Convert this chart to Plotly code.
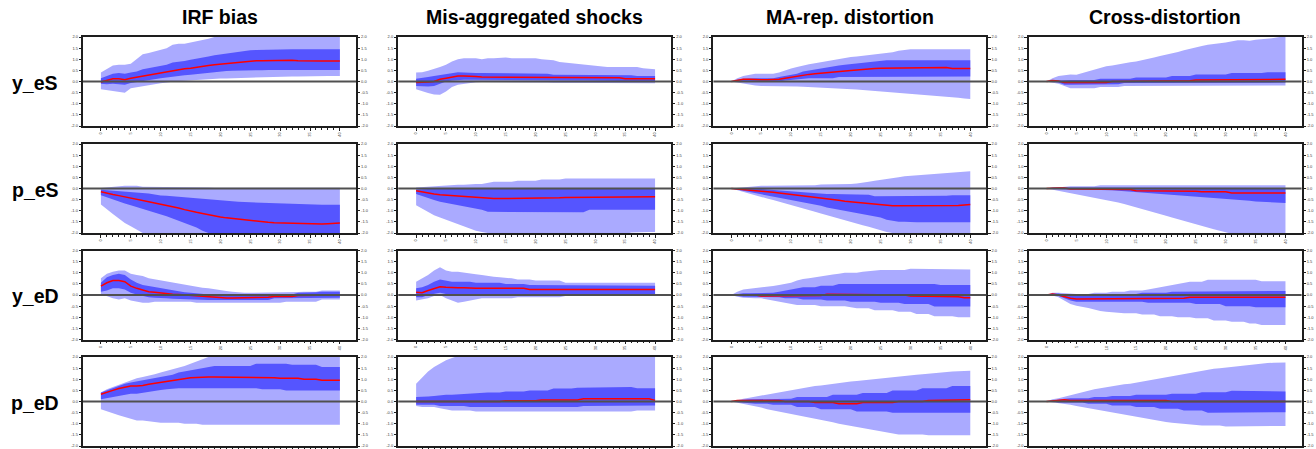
import plotly.graph_objects as go

# Horizons and labels
horizons = list(range(41))
column_titles = ["IRF bias", "Mis-aggregated shocks", "MA-rep. distortion", "Cross-distortion"]
row_labels = ["y_eS", "p_eS", "y_eD", "p_eD"]
y_ticks = [-2.0, -1.5, -1.0, -0.5, 0.0, 0.5, 1.0, 1.5, 2.0]
x_ticks = [0, 5, 10, 15, 20, 25, 30, 35, 40]

# ---------------- y_eS ----------------
irf_y_eS_outer_lo = [-0.35,-0.38,-0.42,-0.45,-0.50, -0.30,-0.25,-0.20,-0.18,-0.12, -0.08,-0.05,0.00,0.02,0.03, 0.05,0.07,0.10,0.10,0.12, 0.13,0.14,0.15,0.15,0.16, 0.18,0.18,0.19,0.19,0.20, 0.20,0.22,0.23,0.23,0.24, 0.24,0.25,0.25,0.25,0.25, 0.25]
irf_y_eS_inner_lo = [-0.10,-0.12,-0.10,-0.12,-0.15, -0.07,-0.02,0.00,0.05,0.10, 0.15,0.18,0.22,0.25,0.28, 0.30,0.33,0.37,0.40,0.42, 0.45,0.47,0.48,0.48,0.50, 0.50,0.51,0.51,0.52,0.52, 0.53,0.55,0.52,0.52,0.52, 0.52,0.52,0.52,0.52,0.52, 0.52]
irf_y_eS_med = [-0.02,0.05,0.12,0.12,0.08, 0.15,0.20,0.25,0.28,0.32, 0.38,0.43,0.50,0.55,0.57, 0.60,0.65,0.68,0.72,0.75, 0.78,0.80,0.83,0.87,0.90, 0.92,0.93,0.93,0.94,0.94, 0.95,0.97,0.95,0.93,0.92, 0.92,0.92,0.92,0.92,0.92, 0.92]
irf_y_eS_inner_hi = [0.15,0.25,0.35,0.38,0.35, 0.40,0.45,0.55,0.60,0.65, 0.70,0.75,0.85,0.88,0.92, 0.98,1.02,1.08,1.12,1.18, 1.22,1.25,1.30,1.33,1.36, 1.40,1.42,1.43,1.44,1.45, 1.45,1.45,1.45,1.45,1.45, 1.45,1.45,1.45,1.45,1.45, 1.45]
irf_y_eS_outer_hi = [0.40,0.55,0.72,0.75,0.75, 0.80,1.00,1.22,1.28,1.35, 1.40,1.50,1.65,1.70,1.70, 1.75,1.80,1.88,1.92,2.00, 2.05,2.10,2.15,2.20,2.25, 2.28,2.30,2.32,2.34,2.35, 2.36,2.38,2.40,2.40,2.42, 2.42,2.44,2.45,2.46,2.47, 2.48]

mis_y_eS_outer_lo = [-0.35,-0.45,-0.52,-0.58,-0.60, -0.45,-0.25,-0.15,-0.10,-0.05, -0.03,-0.02,-0.02,-0.03,-0.03, -0.04,-0.04,-0.05,-0.05,-0.05, -0.05,-0.05,-0.05,-0.06,-0.06, -0.06,-0.06,-0.06,-0.07,-0.07, -0.07,-0.07,-0.07,-0.08,-0.08, -0.08,-0.08,-0.08,-0.08,-0.08, -0.08]
mis_y_eS_inner_lo = [-0.20,-0.22,-0.22,-0.20,-0.10, 0.00,0.05,0.08,0.08,0.08, 0.08,0.08,0.08,0.08,0.08, 0.08,0.08,0.08,0.08,0.08, 0.07,0.07,0.07,0.05,0.05, 0.05,0.05,0.05,0.04,0.04, 0.04,0.03,0.03,0.03,0.03, 0.02,0.02,0.01,0.00,0.00, 0.00]
mis_y_eS_med = [-0.05,-0.05,-0.02,0.00,0.10, 0.15,0.20,0.25,0.25,0.25, 0.22,0.20,0.20,0.20,0.20, 0.20,0.20,0.20,0.20,0.20, 0.20,0.20,0.20,0.20,0.20, 0.17,0.17,0.17,0.17,0.17, 0.17,0.17,0.17,0.17,0.17, 0.12,0.12,0.12,0.12,0.12, 0.12]
mis_y_eS_inner_hi = [0.12,0.15,0.20,0.25,0.30, 0.35,0.40,0.42,0.40,0.38, 0.38,0.38,0.38,0.38,0.38, 0.35,0.35,0.35,0.35,0.35, 0.35,0.35,0.35,0.30,0.30, 0.30,0.30,0.30,0.30,0.30, 0.30,0.28,0.28,0.28,0.28, 0.28,0.28,0.25,0.25,0.25, 0.25]
mis_y_eS_outer_hi = [0.40,0.42,0.48,0.55,0.65, 0.75,0.90,1.00,1.05,1.05, 1.05,1.00,1.05,1.05,1.08, 1.08,1.05,1.05,1.05,1.05, 1.05,1.00,0.98,0.95,0.88, 0.85,0.83,0.80,0.78,0.75, 0.72,0.70,0.65,0.65,0.65, 0.65,0.65,0.65,0.60,0.58, 0.55]

ma_y_eS_outer_lo = [0.00,-0.05,-0.10,-0.15,-0.18, -0.20,-0.20,-0.20,-0.21,-0.22, -0.22,-0.23,-0.24,-0.25,-0.26, -0.27,-0.28,-0.29,-0.30,-0.32, -0.34,-0.36,-0.38,-0.40,-0.42, -0.44,-0.46,-0.48,-0.50,-0.52, -0.54,-0.56,-0.58,-0.60,-0.62, -0.64,-0.67,-0.70,-0.73,-0.76, -0.79]
ma_y_eS_inner_lo = [0.00,0.00,0.02,0.00,0.00, 0.00,0.00,0.00,0.00,0.05, 0.08,0.10,0.12,0.15,0.15, 0.15,0.15,0.15,0.20,0.20, 0.20,0.20,0.20,0.20,0.20, 0.22,0.22,0.22,0.22,0.22, 0.22,0.22,0.22,0.22,0.22, 0.22,0.22,0.22,0.22,0.22, 0.22]
ma_y_eS_med = [0.00,0.05,0.10,0.10,0.08, 0.08,0.08,0.08,0.10,0.15, 0.20,0.25,0.30,0.32,0.35, 0.38,0.40,0.43,0.45,0.47, 0.50,0.52,0.55,0.57,0.58, 0.60,0.60,0.60,0.60,0.63, 0.63,0.63,0.63,0.63,0.63, 0.63,0.63,0.58,0.58,0.58, 0.58]
ma_y_eS_inner_hi = [0.00,0.08,0.12,0.15,0.15, 0.15,0.15,0.15,0.20,0.25, 0.30,0.35,0.45,0.50,0.55, 0.60,0.65,0.70,0.72,0.75, 0.78,0.80,0.85,0.88,0.90, 0.95,0.95,0.95,0.95,0.95, 0.95,0.95,0.95,0.95,0.95, 0.95,0.95,0.95,0.95,0.95, 0.95]
ma_y_eS_outer_hi = [0.00,0.15,0.25,0.30,0.35, 0.35,0.35,0.35,0.40,0.50, 0.58,0.65,0.72,0.78,0.82, 0.87,0.92,0.97,1.00,1.05, 1.10,1.12,1.15,1.18,1.20, 1.25,1.28,1.32,1.38,1.42, 1.45,1.45,1.45,1.45,1.45, 1.45,1.45,1.45,1.45,1.45, 1.45]

cross_y_eS_outer_lo = [0.00,-0.05,-0.10,-0.20,-0.30, -0.30,-0.30,-0.30,-0.30,-0.25, -0.25,-0.25,-0.25,-0.20,-0.20, -0.20,-0.20,-0.20,-0.20,-0.18, -0.18,-0.18,-0.18,-0.18,-0.18, -0.18,-0.18,-0.18,-0.18,-0.18, -0.18,-0.18,-0.18,-0.18,-0.18, -0.18,-0.18,-0.18,-0.18,-0.18, -0.18]
cross_y_eS_inner_lo = [0.00,0.00,-0.05,-0.15,-0.15, -0.15,-0.15,-0.15,-0.15,-0.12, -0.12,-0.12,-0.12,-0.07,-0.07, -0.07,-0.07,-0.07,-0.07,-0.05, -0.05,-0.05,-0.05,-0.05,-0.05, -0.05,-0.05,-0.05,-0.05,-0.05, -0.05,-0.05,-0.05,-0.05,-0.05, -0.05,-0.05,-0.05,-0.05,-0.05, -0.05]
cross_y_eS_med = [0.00,0.05,0.02,-0.05,-0.05, -0.05,-0.05,-0.05,-0.05,-0.05, -0.05,0.00,0.00,0.00,0.00, 0.00,0.00,0.00,0.03,0.03, 0.03,0.03,0.03,0.03,0.03, 0.07,0.07,0.07,0.07,0.07, 0.07,0.07,0.07,0.10,0.10, 0.10,0.10,0.10,0.10,0.10, 0.10]
cross_y_eS_inner_hi = [0.00,0.05,0.05,0.07,0.07, 0.07,0.07,0.07,0.07,0.12, 0.12,0.12,0.12,0.12,0.12, 0.18,0.18,0.18,0.18,0.18, 0.18,0.25,0.25,0.25,0.25, 0.32,0.32,0.32,0.32,0.32, 0.32,0.38,0.38,0.38,0.38, 0.38,0.38,0.42,0.42,0.42, 0.42]
cross_y_eS_outer_hi = [0.00,0.15,0.25,0.30,0.32, 0.30,0.38,0.45,0.55,0.60, 0.68,0.72,0.78,0.82,0.87, 0.90,0.95,1.02,1.08,1.15, 1.20,1.27,1.33,1.40,1.47, 1.55,1.60,1.65,1.70,1.72, 1.75,1.80,1.85,1.85,1.83, 1.88,1.90,1.93,1.95,2.00, 2.05]

# ---------------- p_eS ----------------
irf_p_eS_outer_lo = [-0.72,-0.95,-1.15,-1.35,-1.55, -1.70,-1.85,-2.00,-2.10,-2.20, -2.30,-2.40,-2.50,-2.60,-2.70, -2.80,-2.85,-2.90,-2.95,-3.00, -3.00,-3.00,-3.00,-3.00,-3.00, -3.00,-3.00,-3.00,-3.00,-3.00, -3.00,-3.00,-3.00,-3.00,-3.00, -3.00,-3.00,-3.00,-3.00,-3.00, -3.00]
irf_p_eS_inner_lo = [-0.30,-0.40,-0.50,-0.58,-0.67, -0.75,-0.83,-0.92,-1.00,-1.08, -1.17,-1.25,-1.35,-1.45,-1.55, -1.65,-1.75,-1.90,-2.00,-2.05, -2.10,-2.15,-2.20,-2.25,-2.30, -2.35,-2.40,-2.45,-2.50,-2.50, -2.50,-2.50,-2.50,-2.50,-2.50, -2.50,-2.50,-2.50,-2.50,-2.50, -2.50]
irf_p_eS_med = [-0.15,-0.22,-0.27,-0.32,-0.38, -0.45,-0.50,-0.55,-0.60,-0.65, -0.70,-0.77,-0.83,-0.88,-0.95, -1.02,-1.07,-1.12,-1.18,-1.22, -1.28,-1.32,-1.35,-1.38,-1.42, -1.46,-1.48,-1.50,-1.52,-1.54, -1.55,-1.57,-1.58,-1.59,-1.60, -1.60,-1.60,-1.60,-1.58,-1.56, -1.55]
irf_p_eS_inner_hi = [-0.06,-0.08,-0.10,-0.12,-0.13, -0.15,-0.18,-0.20,-0.23,-0.27, -0.32,-0.33,-0.35,-0.37,-0.38, -0.40,-0.42,-0.45,-0.47,-0.50, -0.52,-0.55,-0.57,-0.60,-0.61, -0.62,-0.63,-0.65,-0.67,-0.67, -0.67,-0.70,-0.70,-0.72,-0.72, -0.72,-0.73,-0.73,-0.73,-0.73, -0.73]
irf_p_eS_outer_hi = [0.02,0.05,0.08,0.10,0.12, 0.12,0.12,0.08,0.08,0.08, 0.08,0.08,0.08,0.08,0.08, 0.08,0.08,0.08,0.05,0.03, 0.03,0.03,0.03,0.03,0.03, 0.03,0.03,0.03,0.03,0.03, 0.03,0.03,0.03,0.03,0.03, 0.03,0.03,0.03,0.03,0.03, 0.03]

mis_p_eS_outer_lo = [-0.75,-0.90,-1.05,-1.20,-1.30, -1.40,-1.50,-1.60,-1.70,-1.80, -1.90,-1.95,-2.00,-2.05,-2.05, -2.05,-2.05,-2.05,-2.05,-2.05, -2.05,-2.05,-2.05,-2.05,-2.05, -2.05,-2.05,-2.05,-2.05,-2.05, -2.05,-2.05,-2.05,-2.05,-2.05, -2.05,-1.98,-1.96,-1.95,-1.95, -1.95]
mis_p_eS_inner_lo = [-0.25,-0.35,-0.45,-0.52,-0.60, -0.65,-0.70,-0.75,-0.80,-0.85, -0.90,-0.95,-1.05,-1.05,-1.05, -1.07,-1.07,-1.07,-1.07,-1.07, -1.07,-1.07,-1.07,-1.07,-1.07, -1.07,-1.07,-1.07,-1.07,-0.95, -0.95,-0.95,-0.95,-0.95,-0.95, -0.95,-0.95,-0.95,-0.95,-0.95, -0.95]
mis_p_eS_med = [-0.10,-0.15,-0.22,-0.25,-0.28, -0.30,-0.32,-0.33,-0.35,-0.37, -0.40,-0.42,-0.45,-0.45,-0.45, -0.45,-0.45,-0.45,-0.45,-0.45, -0.45,-0.45,-0.45,-0.45,-0.42, -0.40,-0.40,-0.40,-0.40,-0.40, -0.40,-0.37,-0.37,-0.37,-0.37, -0.37,-0.37,-0.37,-0.37,-0.37, -0.37]
mis_p_eS_inner_hi = [-0.05,-0.03,-0.02,0.00,0.00, 0.01,0.01,0.01,0.01,0.01, 0.01,0.01,0.01,0.01,0.01, 0.01,0.01,0.01,0.01,0.01, 0.01,0.01,0.01,0.01,0.01, 0.01,0.01,0.01,0.01,0.01, 0.01,0.01,0.01,0.01,0.01, 0.01,0.01,0.01,0.01,0.01, 0.01]
mis_p_eS_outer_hi = [0.05,0.07,0.08,0.10,0.12, 0.15,0.17,0.17,0.17,0.20, 0.20,0.20,0.25,0.30,0.30, 0.30,0.30,0.35,0.35,0.35, 0.35,0.40,0.40,0.40,0.40, 0.45,0.45,0.45,0.45,0.45, 0.45,0.45,0.45,0.45,0.45, 0.45,0.45,0.45,0.45,0.45, 0.45]

ma_p_eS_outer_lo = [0.00,-0.08,-0.15,-0.22,-0.30, -0.38,-0.45,-0.52,-0.60,-0.68, -0.75,-0.82,-0.90,-0.98,-1.05, -1.12,-1.20,-1.28,-1.35,-1.42, -1.50,-1.57,-1.65,-1.72,-1.80, -1.88,-1.95,-2.00,-2.05,-2.10, -2.10,-2.10,-2.10,-2.10,-2.10, -2.10,-2.10,-2.10,-2.10,-2.10, -2.10]
ma_p_eS_inner_lo = [0.00,-0.05,-0.10,-0.15,-0.20, -0.25,-0.30,-0.35,-0.40,-0.45, -0.50,-0.55,-0.62,-0.68,-0.72, -0.78,-0.85,-0.90,-0.95,-1.00, -1.05,-1.10,-1.15,-1.20,-1.25, -1.30,-1.40,-1.45,-1.50,-1.50, -1.52,-1.52,-1.52,-1.52,-1.52, -1.52,-1.52,-1.52,-1.52,-1.52, -1.52]
ma_p_eS_med = [0.00,-0.02,-0.04,-0.06,-0.08, -0.10,-0.13,-0.17,-0.20,-0.23, -0.27,-0.30,-0.33,-0.35,-0.40, -0.43,-0.47,-0.50,-0.53,-0.57, -0.60,-0.62,-0.65,-0.68,-0.70, -0.72,-0.75,-0.78,-0.78,-0.78, -0.78,-0.78,-0.78,-0.78,-0.78, -0.78,-0.78,-0.78,-0.76,-0.74, -0.72]
ma_p_eS_inner_hi = [0.00,0.00,0.00,-0.02,-0.02, -0.02,-0.05,-0.07,-0.10,-0.12, -0.15,-0.15,-0.18,-0.20,-0.22, -0.25,-0.25,-0.25,-0.25,-0.25, -0.28,-0.28,-0.28,-0.28,-0.35, -0.35,-0.35,-0.35,-0.35,-0.35, -0.33,-0.33,-0.33,-0.33,-0.33, -0.33,-0.33,-0.30,-0.30,-0.30, -0.30]
ma_p_eS_outer_hi = [0.00,0.03,0.05,0.08,0.10, 0.12,0.12,0.12,0.12,0.12, 0.15,0.15,0.15,0.15,0.15, 0.18,0.18,0.18,0.18,0.18, 0.20,0.22,0.25,0.30,0.35, 0.38,0.42,0.45,0.50,0.55, 0.57,0.60,0.62,0.65,0.67, 0.68,0.70,0.72,0.74,0.75, 0.77]

cross_p_eS_outer_lo = [0.00,-0.05,-0.10,-0.15,-0.20, -0.25,-0.30,-0.35,-0.40,-0.45, -0.50,-0.57,-0.63,-0.70,-0.77, -0.85,-0.92,-1.00,-1.07,-1.15, -1.22,-1.30,-1.38,-1.45,-1.53, -1.60,-1.68,-1.75,-1.83,-1.90, -1.98,-2.05,-2.10,-2.15,-2.20, -2.25,-2.25,-2.25,-2.25,-2.25, -2.25]
cross_p_eS_inner_lo = [0.00,-0.02,-0.03,-0.03,-0.05, -0.05,-0.05,-0.05,-0.05,-0.05, -0.06,-0.08,-0.10,-0.12,-0.14, -0.16,-0.18,-0.20,-0.22,-0.24, -0.25,-0.26,-0.28,-0.30,-0.32, -0.34,-0.36,-0.38,-0.40,-0.42, -0.45,-0.48,-0.50,-0.53,-0.55, -0.58,-0.60,-0.62,-0.64,-0.65, -0.65]
cross_p_eS_med = [0.00,0.02,0.02,0.02,-0.02, -0.02,-0.02,-0.02,-0.02,-0.02, -0.02,-0.05,-0.05,-0.05,-0.05, -0.10,-0.10,-0.10,-0.10,-0.10, -0.10,-0.12,-0.12,-0.12,-0.12, -0.12,-0.15,-0.15,-0.15,-0.15, -0.15,-0.20,-0.20,-0.20,-0.20, -0.20,-0.20,-0.20,-0.20,-0.20, -0.20]
cross_p_eS_inner_hi = [0.00,0.05,0.05,0.05,0.05, 0.05,0.05,0.05,0.05,0.05, 0.05,0.05,0.05,0.05,0.05, 0.05,0.05,0.05,0.05,0.05, 0.05,0.02,0.02,0.02,0.02, 0.02,0.02,0.02,0.02,0.02, 0.02,0.02,0.02,0.02,0.02, 0.02,0.02,0.02,0.02,0.02, 0.02]
cross_p_eS_outer_hi = [0.00,0.03,0.05,0.07,0.10, 0.10,0.10,0.10,0.10,0.15, 0.15,0.15,0.15,0.18,0.18, 0.18,0.18,0.18,0.18,0.18, 0.18,0.18,0.18,0.18,0.18, 0.15,0.15,0.15,0.15,0.15, 0.15,0.15,0.15,0.15,0.15, 0.15,0.15,0.15,0.15,0.15, 0.15]

# ---------------- y_eD ----------------
irf_y_eD_outer_lo = [0.05,-0.05,-0.15,-0.20,-0.15, -0.25,-0.30,-0.35,-0.35,-0.30, -0.30,-0.30,-0.30,-0.30,-0.30, -0.30,-0.35,-0.35,-0.35,-0.35, -0.35,-0.35,-0.35,-0.35,-0.35, -0.35,-0.35,-0.35,-0.35,-0.35, -0.35,-0.30,-0.30,-0.30,-0.30, -0.30,-0.30,-0.20,-0.20,-0.20, -0.20]
irf_y_eD_inner_lo = [0.15,0.20,0.30,0.30,0.25, 0.10,0.02,-0.05,-0.10,-0.12, -0.15,-0.15,-0.17,-0.18,-0.20, -0.22,-0.22,-0.22,-0.22,-0.22, -0.22,-0.22,-0.22,-0.22,-0.22, -0.22,-0.22,-0.22,-0.22,-0.15, -0.15,-0.15,-0.15,-0.15,-0.15, -0.15,-0.15,-0.12,-0.12,-0.12, -0.12]
irf_y_eD_med = [0.40,0.55,0.65,0.65,0.60, 0.40,0.30,0.22,0.15,0.12, 0.08,0.05,0.03,0.02,0.00, -0.02,-0.05,-0.07,-0.10,-0.12, -0.13,-0.13,-0.13,-0.13,-0.13, -0.10,-0.10,-0.10,-0.10,-0.07, -0.07,-0.07,-0.07,-0.02,-0.02, -0.02,-0.02,0.00,0.00,0.00, 0.00]
irf_y_eD_inner_hi = [0.55,0.80,0.90,0.95,0.90, 0.70,0.55,0.45,0.40,0.35, 0.30,0.25,0.20,0.15,0.12, 0.10,0.07,0.05,0.02,0.00, 0.00,0.00,0.00,0.00,0.00, 0.02,0.02,0.02,0.02,0.02, 0.02,0.02,0.02,0.10,0.10, 0.10,0.12,0.15,0.15,0.15, 0.15]
irf_y_eD_outer_hi = [0.75,0.95,1.05,1.10,1.10, 0.95,0.90,0.85,0.75,0.70, 0.65,0.60,0.55,0.50,0.45, 0.42,0.38,0.33,0.30,0.25, 0.20,0.18,0.15,0.12,0.10, 0.10,0.10,0.10,0.10,0.12, 0.12,0.12,0.13,0.13,0.15, 0.15,0.15,0.20,0.20,0.20, 0.20]

mis_y_eD_outer_lo = [-0.25,-0.20,-0.15,-0.05,0.00, -0.15,-0.25,-0.35,-0.30,-0.25, -0.20,-0.15,-0.15,-0.15,-0.15, -0.15,-0.15,-0.10,-0.10,-0.10, -0.10,-0.10,-0.10,-0.10,-0.10, -0.05,-0.05,-0.05,-0.05,-0.05, -0.05,-0.05,-0.05,-0.05,-0.05, -0.05,-0.05,-0.05,-0.05,-0.05, -0.05]
mis_y_eD_inner_lo = [-0.10,-0.10,0.00,0.05,0.10, 0.05,0.00,-0.05,0.00,0.00, 0.00,0.00,0.00,0.05,0.05, 0.05,0.05,0.05,0.05,0.05, 0.05,0.05,0.05,0.05,0.05, 0.05,0.05,0.05,0.05,0.05, 0.05,0.05,0.05,0.05,0.05, 0.05,0.05,0.05,0.05,0.05, 0.05]
mis_y_eD_med = [0.12,0.10,0.20,0.30,0.37, 0.35,0.33,0.33,0.33,0.30, 0.30,0.30,0.30,0.30,0.30, 0.30,0.30,0.30,0.30,0.25, 0.25,0.25,0.25,0.25,0.25, 0.25,0.25,0.25,0.25,0.25, 0.25,0.25,0.25,0.25,0.25, 0.25,0.25,0.25,0.25,0.25, 0.25]
mis_y_eD_inner_hi = [0.30,0.35,0.45,0.60,0.70, 0.65,0.60,0.60,0.60,0.60, 0.55,0.55,0.55,0.55,0.55, 0.50,0.50,0.50,0.50,0.45, 0.45,0.45,0.45,0.45,0.45, 0.42,0.42,0.42,0.42,0.42, 0.42,0.42,0.42,0.42,0.42, 0.42,0.42,0.42,0.42,0.42, 0.42]
mis_y_eD_outer_hi = [0.60,0.75,0.90,1.10,1.25, 1.10,1.05,1.05,1.00,0.95, 0.93,0.90,0.85,0.82,0.80, 0.78,0.75,0.70,0.70,0.70, 0.65,0.65,0.65,0.65,0.65, 0.55,0.55,0.55,0.55,0.55, 0.55,0.55,0.55,0.55,0.55, 0.55,0.55,0.55,0.55,0.55, 0.55]

ma_y_eD_outer_lo = [0.00,-0.08,-0.12,-0.15,-0.15, -0.15,-0.20,-0.25,-0.30,-0.35, -0.38,-0.45,-0.45,-0.45,-0.45, -0.50,-0.50,-0.50,-0.50,-0.50, -0.55,-0.60,-0.60,-0.60,-0.68, -0.68,-0.68,-0.68,-0.75,-0.75, -0.75,-0.85,-0.85,-0.85,-0.95, -0.95,-0.95,-0.95,-1.00,-1.00, -1.00]
ma_y_eD_inner_lo = [0.00,-0.05,-0.08,-0.08,-0.08, -0.10,-0.10,-0.10,-0.10,-0.15, -0.15,-0.15,-0.20,-0.20,-0.20, -0.20,-0.25,-0.25,-0.25,-0.25, -0.30,-0.30,-0.30,-0.30,-0.30, -0.35,-0.35,-0.35,-0.35,-0.40, -0.40,-0.40,-0.40,-0.40,-0.52, -0.52,-0.52,-0.52,-0.52,-0.52, -0.52]
ma_y_eD_med = [0.00,0.00,0.00,0.00,0.00, -0.05,-0.05,-0.05,-0.05,-0.05, -0.05,-0.02,-0.02,-0.02,-0.02, -0.02,0.03,0.03,0.03,0.03, 0.03,0.03,0.03,0.03,0.03, 0.03,0.00,0.00,0.00,0.00, -0.05,-0.05,-0.05,-0.05,-0.05, -0.05,-0.08,-0.08,-0.08,-0.12, -0.12]
ma_y_eD_inner_hi = [0.00,0.05,0.08,0.08,0.08, 0.10,0.10,0.10,0.15,0.20, 0.22,0.28,0.35,0.35,0.35, 0.42,0.42,0.42,0.50,0.50, 0.50,0.50,0.50,0.50,0.50, 0.52,0.52,0.52,0.52,0.52, 0.50,0.50,0.50,0.50,0.50, 0.45,0.45,0.45,0.45,0.45, 0.45]
ma_y_eD_outer_hi = [0.00,0.15,0.25,0.28,0.30, 0.32,0.35,0.40,0.45,0.50, 0.55,0.65,0.72,0.75,0.80, 0.85,0.88,0.92,0.95,1.00, 1.00,1.00,1.05,1.08,1.12, 1.12,1.12,1.12,1.12,1.12, 1.18,1.18,1.18,1.18,1.18, 1.18,1.18,1.15,1.15,1.15, 1.15]

cross_y_eD_outer_lo = [0.00,-0.02,-0.10,-0.25,-0.40, -0.48,-0.52,-0.58,-0.65,-0.72, -0.75,-0.78,-0.78,-0.82,-0.82, -0.82,-0.88,-0.88,-0.88,-0.95, -0.95,-0.95,-1.00,-1.00,-1.00, -1.05,-1.05,-1.05,-1.15,-1.15, -1.15,-1.20,-1.20,-1.20,-1.28, -1.28,-1.35,-1.35,-1.35,-1.35, -1.35]
cross_y_eD_inner_lo = [0.00,0.00,-0.05,-0.15,-0.25, -0.30,-0.30,-0.30,-0.30,-0.30, -0.30,-0.30,-0.30,-0.30,-0.30, -0.30,-0.30,-0.35,-0.35,-0.35, -0.35,-0.35,-0.35,-0.35,-0.35, -0.40,-0.40,-0.40,-0.40,-0.40, -0.50,-0.50,-0.50,-0.50,-0.50, -0.55,-0.55,-0.55,-0.55,-0.55, -0.55]
cross_y_eD_med = [0.00,0.05,0.00,-0.08,-0.15, -0.18,-0.18,-0.18,-0.18,-0.18, -0.18,-0.15,-0.15,-0.15,-0.15, -0.15,-0.18,-0.18,-0.15,-0.15, -0.15,-0.15,-0.15,-0.15,-0.10, -0.10,-0.10,-0.10,-0.10,-0.10, -0.10,-0.10,-0.10,-0.10,-0.10, -0.10,-0.10,-0.10,-0.10,-0.10, -0.10]
cross_y_eD_inner_hi = [0.00,0.07,0.07,0.00,-0.05, -0.03,-0.03,-0.03,-0.03,0.00, 0.00,0.00,0.05,0.05,0.05, 0.05,0.10,0.10,0.10,0.10, 0.10,0.15,0.15,0.15,0.15, 0.18,0.18,0.18,0.18,0.18, 0.18,0.18,0.18,0.18,0.18, 0.18,0.18,0.18,0.18,0.18, 0.18]
cross_y_eD_outer_hi = [0.00,0.10,0.10,0.08,0.05, 0.05,0.05,0.05,0.10,0.10, 0.10,0.15,0.15,0.15,0.20, 0.20,0.20,0.25,0.30,0.35, 0.40,0.45,0.50,0.55,0.60, 0.60,0.60,0.68,0.68,0.68, 0.68,0.68,0.68,0.68,0.68, 0.68,0.62,0.62,0.62,0.62, 0.62]

# ---------------- p_eD ----------------
irf_p_eD_outer_lo = [-0.35,-0.45,-0.55,-0.62,-0.70, -0.78,-0.85,-0.85,-0.90,-0.92, -0.95,-0.95,-0.95,-0.95,-1.00, -1.00,-1.00,-1.05,-1.05,-1.05, -1.05,-1.05,-1.05,-1.05,-1.05, -1.05,-1.05,-1.05,-1.05,-1.05, -1.05,-1.05,-1.05,-1.05,-1.05, -1.05,-1.05,-1.05,-1.05,-1.05, -1.05]
irf_p_eD_inner_lo = [0.10,0.15,0.20,0.25,0.30, 0.35,0.35,0.40,0.45,0.50, 0.52,0.55,0.58,0.60,0.60, 0.60,0.60,0.60,0.60,0.60, 0.60,0.60,0.60,0.60,0.60, 0.60,0.60,0.55,0.55,0.55, 0.55,0.50,0.50,0.50,0.50, 0.50,0.50,0.50,0.50,0.50, 0.50]
irf_p_eD_med = [0.33,0.40,0.50,0.58,0.65, 0.70,0.70,0.72,0.78,0.82, 0.88,0.92,0.95,1.00,1.03, 1.07,1.08,1.10,1.10,1.10, 1.10,1.10,1.10,1.10,1.10, 1.10,1.08,1.07,1.07,1.07, 1.05,1.05,1.05,1.05,1.00, 1.00,1.00,0.95,0.95,0.95, 0.95]
irf_p_eD_inner_hi = [0.40,0.50,0.60,0.70,0.80, 0.85,0.90,0.95,1.00,1.05, 1.10,1.15,1.20,1.30,1.35, 1.40,1.45,1.50,1.55,1.60, 1.60,1.60,1.60,1.60,1.60, 1.60,1.70,1.70,1.70,1.70, 1.70,1.70,1.65,1.65,1.65, 1.65,1.65,1.55,1.55,1.55, 1.55]
irf_p_eD_outer_hi = [0.40,0.55,0.65,0.75,0.85, 0.95,1.05,1.10,1.15,1.22, 1.30,1.37,1.45,1.52,1.60, 1.70,1.80,1.90,2.00,2.05, 2.10,2.15,2.20,2.20,2.20, 2.20,2.20,2.20,2.20,2.20, 2.20,2.20,2.20,2.20,2.20, 2.20,2.20,2.20,2.20,2.20, 2.20]

mis_p_eD_outer_lo = [-0.20,-0.25,-0.25,-0.25,-0.30, -0.35,-0.40,-0.40,-0.40,-0.40, -0.45,-0.45,-0.45,-0.45,-0.45, -0.45,-0.45,-0.45,-0.45,-0.45, -0.45,-0.45,-0.45,-0.45,-0.45, -0.45,-0.45,-0.45,-0.45,-0.45, -0.45,-0.45,-0.45,-0.45,-0.45, -0.45,-0.45,-0.40,-0.40,-0.40, -0.40]
mis_p_eD_inner_lo = [-0.15,-0.15,-0.15,-0.15,-0.20, -0.20,-0.20,-0.20,-0.20,-0.25, -0.25,-0.25,-0.25,-0.25,-0.25, -0.25,-0.25,-0.25,-0.25,-0.25, -0.25,-0.25,-0.25,-0.25,-0.25, -0.25,-0.25,-0.25,-0.20,-0.20, -0.20,-0.20,-0.20,-0.20,-0.20, -0.20,-0.20,-0.18,-0.18,-0.18, -0.18]
mis_p_eD_med = [0.00,0.00,0.00,0.00,-0.03, 0.00,0.00,0.00,0.00,0.00, 0.00,0.00,0.00,0.00,0.00, 0.03,0.03,0.03,0.03,0.03, 0.03,0.07,0.07,0.07,0.07, 0.07,0.07,0.07,0.12,0.12, 0.12,0.12,0.12,0.12,0.12, 0.12,0.12,0.12,0.12,0.12, 0.05]
mis_p_eD_inner_hi = [0.20,0.20,0.22,0.25,0.28, 0.30,0.30,0.32,0.33,0.35, 0.35,0.40,0.40,0.40,0.40, 0.45,0.45,0.45,0.45,0.50, 0.50,0.50,0.50,0.58,0.58, 0.58,0.58,0.62,0.62,0.62, 0.62,0.62,0.62,0.65,0.65, 0.65,0.65,0.60,0.60,0.60, 0.60]
mis_p_eD_outer_hi = [0.80,1.10,1.35,1.55,1.70, 1.85,1.95,2.05,2.10,2.15, 2.20,2.20,2.20,2.20,2.20, 2.20,2.20,2.20,2.20,2.20, 2.20,2.20,2.20,2.20,2.20, 2.20,2.20,2.20,2.20,2.20, 2.20,2.20,2.20,2.20,2.20, 2.20,2.20,2.20,2.20,2.20, 2.20]

ma_p_eD_outer_lo = [0.00,-0.05,-0.10,-0.15,-0.20, -0.27,-0.35,-0.40,-0.45,-0.50, -0.55,-0.60,-0.65,-0.70,-0.75, -0.80,-0.87,-0.93,-1.00,-1.05, -1.10,-1.15,-1.20,-1.25,-1.30, -1.35,-1.40,-1.45,-1.48,-1.48, -1.48,-1.48,-1.48,-1.52,-1.52, -1.52,-1.52,-1.52,-1.52,-1.52, -1.52]
ma_p_eD_inner_lo = [0.00,-0.03,-0.05,-0.10,-0.10, -0.10,-0.10,-0.15,-0.15,-0.15, -0.15,-0.25,-0.25,-0.25,-0.25, -0.35,-0.35,-0.35,-0.35,-0.35, -0.35,-0.45,-0.45,-0.45,-0.45, -0.45,-0.45,-0.50,-0.50,-0.50, -0.50,-0.50,-0.50,-0.50,-0.50, -0.50,-0.50,-0.50,-0.50,-0.50, -0.50]
ma_p_eD_med = [0.00,0.05,0.05,0.05,0.05, 0.05,0.05,0.05,0.05,0.00, 0.00,0.00,0.00,0.00,-0.05, -0.05,-0.05,-0.05,-0.10,-0.10, -0.10,-0.10,-0.05,-0.05,-0.05, -0.05,-0.05,-0.05,0.00,0.00, 0.00,0.00,0.00,0.05,0.05, 0.05,0.05,0.08,0.08,0.08, 0.08]
ma_p_eD_inner_hi = [0.00,0.05,0.08,0.10,0.10, 0.10,0.10,0.12,0.12,0.12, 0.12,0.20,0.20,0.20,0.20, 0.20,0.20,0.30,0.30,0.30, 0.30,0.30,0.38,0.38,0.38, 0.38,0.38,0.50,0.50,0.50, 0.50,0.50,0.60,0.60,0.60, 0.60,0.60,0.70,0.70,0.70, 0.70]
ma_p_eD_outer_hi = [0.00,0.07,0.12,0.17,0.22, 0.28,0.32,0.38,0.43,0.48, 0.52,0.57,0.62,0.67,0.70, 0.72,0.76,0.80,0.83,0.87, 0.90,0.92,0.95,0.98,1.00, 1.05,1.07,1.10,1.12,1.15, 1.17,1.20,1.22,1.25,1.27, 1.30,1.33,1.35,1.36,1.37, 1.38]

cross_p_eD_outer_lo = [0.00,-0.03,-0.07,-0.10,-0.15, -0.20,-0.25,-0.30,-0.35,-0.40, -0.45,-0.50,-0.55,-0.60,-0.65, -0.70,-0.75,-0.80,-0.85,-0.88, -0.92,-0.95,-0.98,-1.00,-1.02, -1.05,-1.08,-1.08,-1.08,-1.08, -1.12,-1.12,-1.12,-1.12,-1.12, -1.12,-1.10,-1.10,-1.10,-1.10, -1.10]
cross_p_eD_inner_lo = [0.00,0.00,-0.05,-0.05,-0.05, -0.05,-0.05,-0.10,-0.10,-0.10, -0.10,-0.18,-0.18,-0.18,-0.18, -0.25,-0.25,-0.25,-0.25,-0.33, -0.33,-0.33,-0.33,-0.40,-0.40, -0.40,-0.40,-0.50,-0.50,-0.50, -0.50,-0.50,-0.50,-0.48,-0.48, -0.48,-0.48,-0.48,-0.48,-0.48, -0.48]
cross_p_eD_med = [0.00,0.03,0.05,0.08,0.05, 0.05,0.05,0.05,0.05,0.05, 0.05,0.05,0.05,0.05,0.05, 0.05,0.05,0.05,0.05,0.05, 0.05,0.00,0.00,0.00,0.00, 0.00,0.00,0.00,0.00,0.00, 0.00,0.00,0.00,0.00,0.00, 0.00,0.00,0.00,0.00,0.00, 0.00]
cross_p_eD_inner_hi = [0.00,0.05,0.08,0.12,0.15, 0.15,0.15,0.15,0.20,0.20, 0.20,0.25,0.25,0.25,0.25, 0.30,0.30,0.30,0.30,0.30, 0.30,0.35,0.35,0.35,0.35, 0.35,0.42,0.42,0.42,0.42, 0.42,0.48,0.48,0.48,0.48, 0.48,0.48,0.45,0.45,0.45, 0.45]
cross_p_eD_outer_hi = [0.00,0.10,0.15,0.22,0.30, 0.35,0.42,0.48,0.55,0.60, 0.65,0.70,0.73,0.77,0.80, 0.85,0.90,0.95,1.00,1.05, 1.10,1.15,1.20,1.25,1.28, 1.32,1.37,1.42,1.47,1.50, 1.53,1.57,1.60,1.63,1.67, 1.70,1.72,1.73,1.74,1.75, 1.75]

# Grid of panels: rows are responses, columns are decomposition terms
panels = [
    [
        (irf_y_eS_outer_lo, irf_y_eS_inner_lo, irf_y_eS_med, irf_y_eS_inner_hi, irf_y_eS_outer_hi),
        (mis_y_eS_outer_lo, mis_y_eS_inner_lo, mis_y_eS_med, mis_y_eS_inner_hi, mis_y_eS_outer_hi),
        (ma_y_eS_outer_lo, ma_y_eS_inner_lo, ma_y_eS_med, ma_y_eS_inner_hi, ma_y_eS_outer_hi),
        (cross_y_eS_outer_lo, cross_y_eS_inner_lo, cross_y_eS_med, cross_y_eS_inner_hi, cross_y_eS_outer_hi),
    ],
    [
        (irf_p_eS_outer_lo, irf_p_eS_inner_lo, irf_p_eS_med, irf_p_eS_inner_hi, irf_p_eS_outer_hi),
        (mis_p_eS_outer_lo, mis_p_eS_inner_lo, mis_p_eS_med, mis_p_eS_inner_hi, mis_p_eS_outer_hi),
        (ma_p_eS_outer_lo, ma_p_eS_inner_lo, ma_p_eS_med, ma_p_eS_inner_hi, ma_p_eS_outer_hi),
        (cross_p_eS_outer_lo, cross_p_eS_inner_lo, cross_p_eS_med, cross_p_eS_inner_hi, cross_p_eS_outer_hi),
    ],
    [
        (irf_y_eD_outer_lo, irf_y_eD_inner_lo, irf_y_eD_med, irf_y_eD_inner_hi, irf_y_eD_outer_hi),
        (mis_y_eD_outer_lo, mis_y_eD_inner_lo, mis_y_eD_med, mis_y_eD_inner_hi, mis_y_eD_outer_hi),
        (ma_y_eD_outer_lo, ma_y_eD_inner_lo, ma_y_eD_med, ma_y_eD_inner_hi, ma_y_eD_outer_hi),
        (cross_y_eD_outer_lo, cross_y_eD_inner_lo, cross_y_eD_med, cross_y_eD_inner_hi, cross_y_eD_outer_hi),
    ],
    [
        (irf_p_eD_outer_lo, irf_p_eD_inner_lo, irf_p_eD_med, irf_p_eD_inner_hi, irf_p_eD_outer_hi),
        (mis_p_eD_outer_lo, mis_p_eD_inner_lo, mis_p_eD_med, mis_p_eD_inner_hi, mis_p_eD_outer_hi),
        (ma_p_eD_outer_lo, ma_p_eD_inner_lo, ma_p_eD_med, ma_p_eD_inner_hi, ma_p_eD_outer_hi),
        (cross_p_eD_outer_lo, cross_p_eD_inner_lo, cross_p_eD_med, cross_p_eD_inner_hi, cross_p_eD_outer_hi),
    ],
]

for row in panels:
    for bands in row:
        for series in bands:
            assert len(series) == len(horizons)

# Page geometry (pixels)
W, H = 1316, 449
col_left = [83.0, 398.2, 713.4, 1028.6]
col_width = 273.0
row_top = [37.0, 144.0, 250.5, 357.0]
row_height = 89.0

LIGHT = "rgb(170,170,255)"
DARK = "rgb(85,85,255)"
RED = "rgb(255,0,0)"
AXIS = "rgb(30,30,30)"
TICKFONT = dict(family="Liberation Sans, Arial, sans-serif", size=4, color="rgb(60,60,60)")

fig = go.Figure()
layout = dict(
    template="none",
    width=W, height=H,
    margin=dict(l=0, r=0, t=0, b=0, autoexpand=False),
    paper_bgcolor="white", plot_bgcolor="white",
    showlegend=False,
    shapes=[], annotations=[],
)


def ax_name(prefix, n):
    return prefix if n == 1 else f"{prefix}{n}"


k = 0
for r in range(4):
    for c in range(4):
        k += 1
        xn = ax_name("x", k)
        yl = ax_name("y", 2 * k - 1)
        yr = ax_name("y", 2 * k)
        lo2, lo1, med, hi1, hi2 = panels[r][c]

        common = dict(x=horizons, xaxis=xn, yaxis=yl, hoverinfo="skip", showlegend=False)
        fig.add_trace(go.Scatter(y=lo2, mode="lines", line=dict(width=0), **common))
        fig.add_trace(go.Scatter(y=hi2, mode="lines", line=dict(width=0),
                                 fill="tonexty", fillcolor=LIGHT, **common))
        fig.add_trace(go.Scatter(y=lo1, mode="lines", line=dict(width=0), **common))
        fig.add_trace(go.Scatter(y=hi1, mode="lines", line=dict(width=0),
                                 fill="tonexty", fillcolor=DARK, **common))
        fig.add_trace(go.Scatter(y=med, mode="lines", line=dict(width=1.5, color=RED), **common))
        # invisible anchor so the right-hand axis is drawn
        fig.add_trace(go.Scatter(x=[horizons[0]], y=[0], xaxis=xn, yaxis=yr, mode="markers",
                                 marker=dict(opacity=0), hoverinfo="skip", showlegend=False))

        x0 = col_left[c] / W
        x1 = (col_left[c] + col_width) / W
        y1 = 1 - row_top[r] / H
        y0 = 1 - (row_top[r] + row_height) / H

        layout[ax_name("xaxis", k)] = dict(
            domain=[x0, x1], anchor=yl, range=[-3, 42.7], automargin=False,
            tickmode="array", tickvals=x_ticks, ticktext=[str(v) for v in x_ticks],
            ticks="outside", ticklen=3, tickwidth=1, tickcolor=AXIS,
            minor=dict(ticks="outside", tickvals=horizons, ticklen=2, tickwidth=1, tickcolor=AXIS),
            tickangle=-90, tickfont=TICKFONT,
            showline=True, linecolor=AXIS, linewidth=1.5, mirror=True,
            showgrid=False, zeroline=False, fixedrange=True,
        )
        ycommon = dict(
            range=[-2, 2], tickmode="array", tickvals=y_ticks, automargin=False,
            ticktext=[f"{v:.1f}" for v in y_ticks],
            ticks="outside", ticklen=2.5, tickwidth=1, tickcolor=AXIS, tickfont=TICKFONT,
            showline=True, linecolor=AXIS, linewidth=1.5,
            showgrid=False, zeroline=False, fixedrange=True,
        )
        layout[ax_name("yaxis", 2 * k - 1)] = dict(domain=[y0, y1], anchor=xn, side="left", **ycommon)
        layout[ax_name("yaxis", 2 * k)] = dict(domain=[y0, y1], anchor=xn, side="right",
                                                 overlaying=yl, **ycommon)

        # zero reference line across the panel
        layout["shapes"].append(dict(
            type="line", xref=f"{xn} domain", yref=yl, x0=0, x1=1, y0=0, y1=0,
            line=dict(color="rgb(80,80,80)", width=1.8), layer="above",
        ))

# Column titles
for c, title in enumerate(column_titles):
    layout["annotations"].append(dict(
        text=f"<b>{title}</b>", x=(col_left[c] + col_width / 2) / W, y=1 - 17 / H,
        xref="paper", yref="paper", showarrow=False, xanchor="center", yanchor="middle",
        font=dict(family="Liberation Sans, Arial, sans-serif", size=19.5, color="black"),
    ))

# Row labels
for r, label in enumerate(row_labels):
    layout["annotations"].append(dict(
        text=f"<b>{label}</b>", x=35 / W, y=1 - (row_top[r] + row_height / 2 + 1) / H,
        xref="paper", yref="paper", showarrow=False, xanchor="center", yanchor="middle",
        font=dict(family="Liberation Sans, Arial, sans-serif", size=19.5, color="black"),
    ))

fig.update_layout(**layout)
fig.write_html("out.html")
